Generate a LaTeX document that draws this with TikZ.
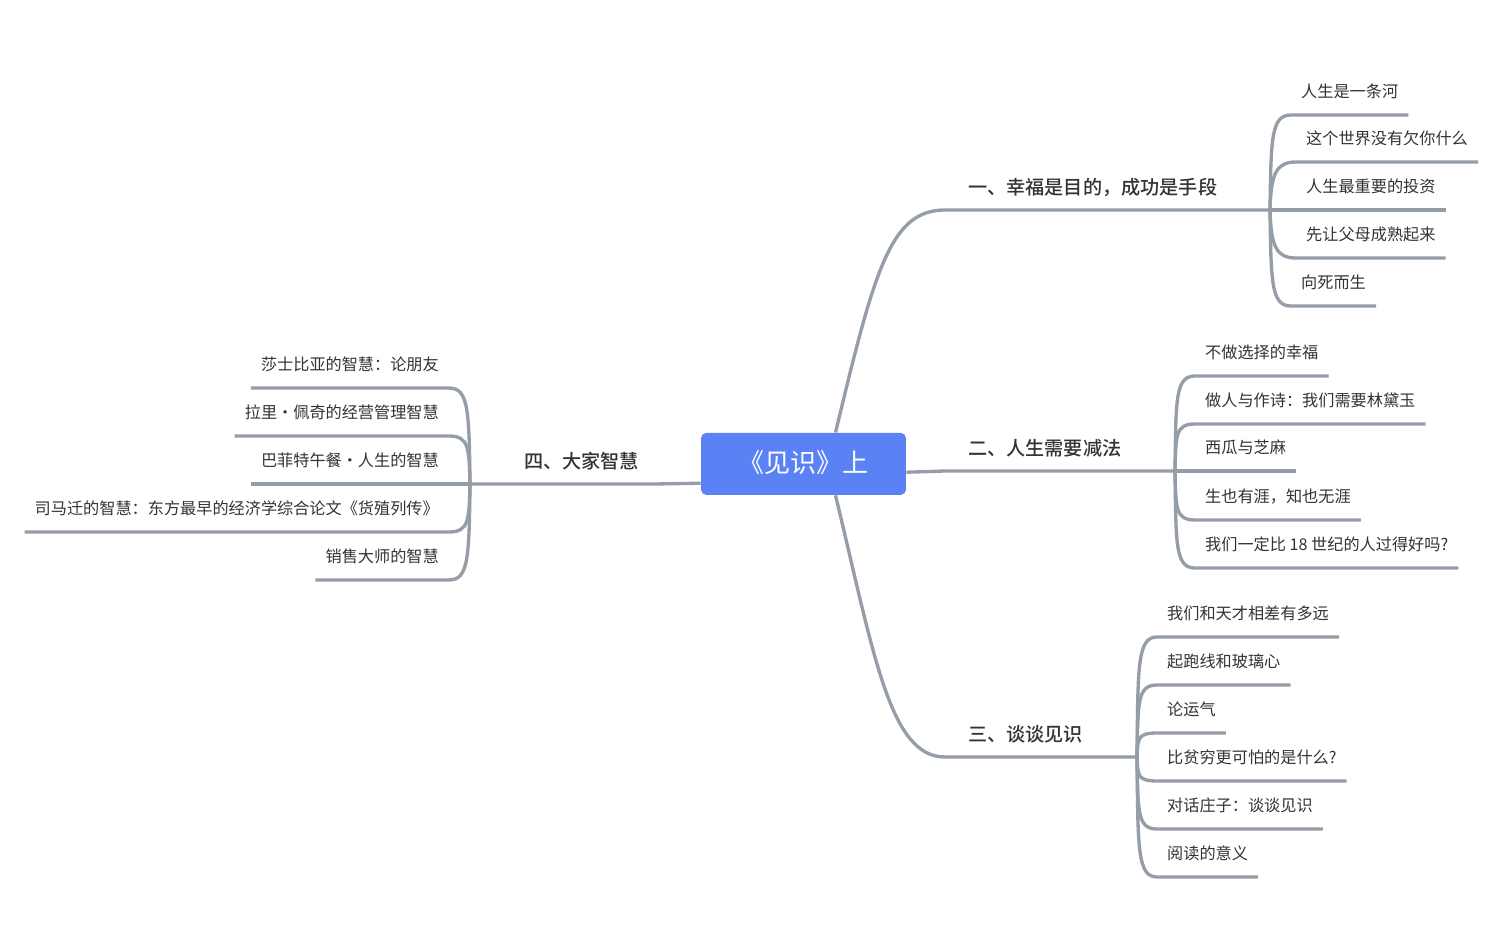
\documentclass[tikz,border=0pt]{standalone}
\usepackage{fontspec}
\setmainfont{Noto Sans CJK SC}
\newfontfamily\medfont{Noto Sans CJK SC}[UprightFont=* Medium]
\usetikzlibrary{calc,positioning}
\definecolor{branchgray}{RGB}{149,157,167}
\definecolor{topicblue}{RGB}{90,130,245}
\definecolor{labeltext}{RGB}{51,51,51}
\tikzset{
  link/.style={draw=branchgray,line width=1.9pt},
  rootbox/.style={fill=topicblue,rounded corners=3pt,minimum width=4.1cm,minimum height=1.24cm,text=white,font=\fontsize{14.8}{17}\selectfont,inner sep=0pt,text height=10pt,text depth=0pt,yshift=-0.5pt},
  maintopic/.style={text=labeltext,font=\fontsize{10.9}{13}\medfont,inner xsep=13pt,inner ysep=8.35pt,text height=8.3pt,text depth=0pt},
  subtopic/.style={text=labeltext,font=\fontsize{9.2}{11}\selectfont,inner xsep=5.6pt,inner ysep=9.5pt,text height=7pt,text depth=0pt}
}
\begin{document}
\begin{tikzpicture}[x=0.02cm,y=-0.02cm]
\fill[white] (0,0) rectangle (1500,952);
\useasboundingbox (0,0) rectangle (1500,952);
\node[rootbox] (root) at (803.5,463) {《见识》上};
\node[maintopic,anchor=south west] (b1) at (945,210) {一、幸福是目的，成功是手段};
\node[maintopic,anchor=south west] (b2) at (945,471) {二、人生需要减法};
\node[maintopic,anchor=south west] (b3) at (945,757) {三、谈谈见识};
\node[maintopic,anchor=south west,inner xsep=9pt] (b4) at (508,484) {四、大家智慧};
\coordinate (f1) at (1270,210);
\coordinate (f2) at (1175,471);
\coordinate (f3) at (1137,757);
\coordinate (f4) at (470,484);
\draw[link] ($(root.north)+(32,0)$) .. controls +(39,-162) and +(-55,0) .. (b1.south west) -- (f1);
\draw[link] ($(root.south east)+(0,-23)$) -- (b2.south west) -- (f2);
\draw[link] ($(root.south)+(32,0)$) .. controls +(39,162) and +(-55,0) .. (b3.south west) -- (f3);
\draw[link] ($(root.south west)+(0,-12)$) -- (b4.south east) -- (f4);
\foreach \y/\x/\txt [count=\i] in {115/1291/人生是一条河,162/1296/这个世界没有欠你什么,210/1296/人生最重要的投资,258/1296/先让父母成熟起来,306/1291/向死而生}{
  \node[subtopic,anchor=south west] (a\i) at (\x,\y) {\txt};
  \draw[link] (f1) .. controls +(1,{0.75*(\y-210)}) and +(-20,0) .. (a\i.south west) -- (a\i.south east);
}
\foreach \y/\txt [count=\i] in {376/不做选择的幸福,424/做人与作诗：我们需要林黛玉,471/西瓜与芝麻,520/生也有涯，知也无涯,568/我们一定比 18 世纪的人过得好吗?}{
  \node[subtopic,anchor=south west] (m\i) at (1195,\y) {\txt};
  \draw[link] (f2) .. controls +(1,{0.75*(\y-471)}) and +(-20,0) .. (m\i.south west) -- (m\i.south east);
}
\foreach \y/\txt [count=\i] in {637/我们和天才相差有多远,685/起跑线和玻璃心,733/论运气,781/比贫穷更可怕的是什么?,829/对话庄子：谈谈见识,877/阅读的意义}{
  \node[subtopic,anchor=south west] (s\i) at (1157,\y) {\txt};
  \draw[link] (f3) .. controls +(1,{0.75*(\y-757)}) and +(-20,0) .. (s\i.south west) -- (s\i.south east);
}
\foreach \y/\txt [count=\i] in {388/莎士比亚的智慧：论朋友,436/拉里・佩奇的经营管理智慧,484/巴菲特午餐・人生的智慧,532/司马迁的智慧：东方最早的经济学综合论文《货殖列传》,580/销售大师的智慧}{
  \node[subtopic,anchor=south east] (c\i) at (449,\y) {\txt};
  \draw[link] (f4) .. controls +(-1,{0.75*(\y-484)}) and +(20,0) .. (c\i.south east) -- (c\i.south west);
}
\end{tikzpicture}
\end{document}
